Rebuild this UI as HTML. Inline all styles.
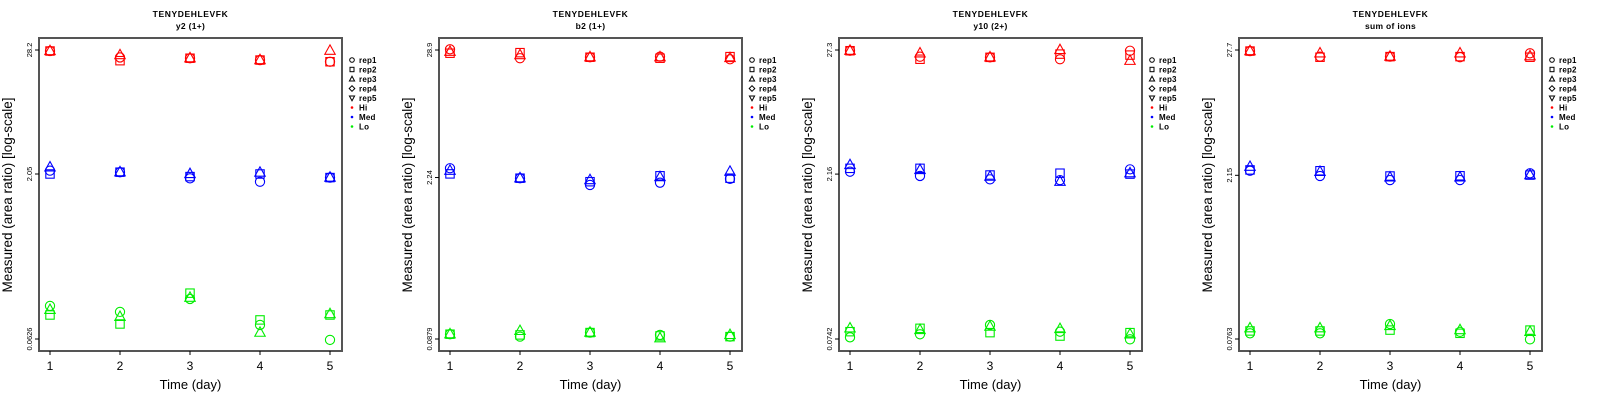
<!DOCTYPE html>
<html><head><meta charset="utf-8"><style>
html,body{margin:0;padding:0;background:#fff;}
svg{display:block;font-family:"Liberation Sans",sans-serif;}
</style></head><body>
<svg id="chart" width="1600" height="400" viewBox="0 0 1600 400" xmlns="http://www.w3.org/2000/svg"></svg>
<script>
const days = [1, 2, 3, 4, 5];
const panelTitles = ["y2 (1+)", "b2 (1+)", "y10 (2+)", "sum of ions"];
const peptide = "TENYDEHLEVFK";
const yTickLabels = [["28.2","2.05","0.0626"],["28.9","2.24","0.0879"],["27.3","2.16","0.0742"],["27.7","2.15","0.0763"]];
const yTickValues = [[28.2,2.05,0.0626],[28.9,2.24,0.0879],[27.3,2.16,0.0742],[27.7,2.15,0.0763]];
// values per panel: [rep1, rep2, rep3] each over days
const hi1 = [[27.6,24.1,23.7,22.8,22.0],[27.6,22.5,23.7,22.8,22.0],[27.6,25.3,23.7,22.8,27.8]];
const med1 = [[2.20,2.13,1.87,1.74,1.90],[2.05,2.13,1.94,2.05,1.90],[2.36,2.13,2.05,2.11,1.90]];
const lo1 = [[0.126,0.111,0.146,0.0843,0.0614],[0.104,0.086,0.165,0.0937,0.104],[0.116,0.100,0.150,0.0716,0.106]];
const hi2 = [[29.3,24.5,25.0,25.3,24.0],[27.1,27.4,25.0,24.5,25.3],[27.9,26.1,25.0,25.0,24.6]];
const med2 = [[2.70,2.21,1.93,2.02,2.18],[2.41,2.21,2.06,2.32,2.21],[2.57,2.21,2.13,2.26,2.52]];
const lo2 = [[0.0968,0.0922,0.100,0.0954,0.0922],[0.0968,0.0954,0.100,0.0935,0.0922],[0.0968,0.1034,0.100,0.0893,0.0954]];
const hi3 = [[26.9,23.8,23.5,22.6,26.9],[26.9,22.6,23.5,25.1,24.6],[26.9,25.5,23.5,27.3,21.9]];
const med3 = [[2.27,2.08,1.94,1.91,2.38],[2.43,2.43,2.12,2.20,2.16],[2.60,2.35,2.05,1.85,2.20]];
const lo3 = [[0.0768,0.0817,0.0989,0.0862,0.0737],[0.0862,0.0923,0.0845,0.0788,0.0845],[0.0923,0.0893,0.0955,0.0911,0.0817]];
const hi4 = [[27.1,24.2,24.2,23.9,25.9],[27.1,23.9,24.2,24.2,23.9],[27.1,25.9,24.2,25.9,24.4]];
const med4 = [[2.36,2.12,1.95,1.95,2.24],[2.40,2.36,2.12,2.13,2.16],[2.56,2.31,2.06,2.06,2.16]];
const lo4 = [[0.0857,0.0857,0.1036,0.0883,0.0757],[0.0899,0.0899,0.0915,0.0857,0.0915],[0.0950,0.0950,0.0995,0.0915,0.0883]];
const panelData = [[hi1,med1,lo1],[hi2,med2,lo2],[hi3,med3,lo3],[hi4,med4,lo4]];
const levelNames = ["hi","med","lo"];
const levelColors = ["#ff0000","#0000ff","#00ee00"];
const legendLabels = ["rep1","rep2","rep3","rep4","rep5","Hi","Med","Lo"];

const svg = document.getElementById('chart');
const NS = "http://www.w3.org/2000/svg";
function mk(tag, attrs, parent, text) {
  const e = document.createElementNS(NS, tag);
  for (const k in attrs) e.setAttribute(k, attrs[k]);
  if (text !== undefined) e.textContent = text;
  (parent || svg).appendChild(e);
  return e;
}
function marker(g, shape, cx, cy, color) {
  let e;
  if (shape === 0) e = mk('circle', {cx: cx, cy: cy, r: 4.6, fill: 'none', stroke: color, 'stroke-width': 1.1}, g);
  else if (shape === 1) e = mk('rect', {x: cx - 4.2, y: cy - 4.2, width: 8.4, height: 8.4, fill: 'none', stroke: color, 'stroke-width': 1.1}, g);
  else e = mk('polygon', {points: `${cx},${cy-5.8} ${cx-5.2},${cy+3.6} ${cx+5.2},${cy+3.6}`, fill: 'none', stroke: color, 'stroke-width': 1.1}, g);
  return e;
}
for (let p = 0; p < 4; p++) {
  const o = 400 * p;
  const L = 39 + o, R = 342 + o, T = 38, B = 351;
  const yTop = 50, yBot = 339;
  const lt = Math.log(yTickValues[p][0]), lb = Math.log(yTickValues[p][2]);
  const ys = v => yBot - (Math.log(v) - lb) / (lt - lb) * (yBot - yTop);
  const xs = d => 50 + o + (d - 1) * 70;
  const g = mk('g', {});
  
  
  const t1 = mk('text', {x: 190.5 + o, y: 17, 'text-anchor': 'middle', 'font-size': 8.5, 'font-weight': 'bold', 'letter-spacing': 0.6}, g, peptide);
  
  
  const t2 = mk('text', {x: 190.5 + o, y: 29, 'text-anchor': 'middle', 'font-size': 8.5, 'font-weight': 'bold', 'letter-spacing': 0.3}, g, panelTitles[p]);
  
  
  // data
  for (let lv = 0; lv < 3; lv++) {
    const reps = panelData[p][lv];
    for (let r = 0; r < reps.length; r++) {
      for (let d = 0; d < days.length; d++) {
        const m = marker(g, r, xs(days[d]), ys(reps[r][d]), levelColors[lv]);
        
        
      }
    }
  }
  const box = mk('rect', {x: L, y: T, width: R - L, height: B - T, fill: 'none', stroke: '#555', 'stroke-width': 2}, g);
  
  
  // y ticks
  for (let i = 0; i < 3; i++) {
    const y = ys(yTickValues[p][i]);
    mk('line', {x1: L - 4, x2: L, y1: y, y2: y, stroke: '#000', 'stroke-width': 1}, g);
    const tl = mk('text', {x: 0, y: 0, transform: `translate(${L - 7},${y}) rotate(-90)`, 'text-anchor': 'middle', 'font-size': 7.5}, g, yTickLabels[p][i]);
    
    
  }
  // x ticks
  for (let d = 0; d < days.length; d++) {
    const x = xs(days[d]);
    mk('line', {x1: x, x2: x, y1: B, y2: B + 4, stroke: '#000', 'stroke-width': 1}, g);
    const xl = mk('text', {x: x, y: 370, 'text-anchor': 'middle', 'font-size': 12}, g, String(days[d]));
    
    
  }
  const xt = mk('text', {x: 190.5 + o, y: 389, 'text-anchor': 'middle', 'font-size': 13}, g, 'Time (day)');
  
  
  const yt = mk('text', {x: 0, y: 0, transform: `translate(${12 + o},195) rotate(-90)`, 'text-anchor': 'middle', 'font-size': 13.5}, g, 'Measured (area ratio) [log-scale]');
  
  
  // legend
  const lg = mk('g', {}, g);
  
  
  for (let i = 0; i < legendLabels.length; i++) {
    const y = 60 + i * 9.5, x = 352 + o;
    if (i === 0) mk('circle', {cx: x, cy: y, r: 2.3, fill: 'none', stroke: '#000', 'stroke-width': 1}, lg);
    else if (i === 1) mk('rect', {x: x - 2, y: y - 2.2, width: 4, height: 4.4, fill: 'none', stroke: '#000', 'stroke-width': 1}, lg);
    else if (i === 2) mk('polygon', {points: `${x},${y-2.8} ${x-2.6},${y+2} ${x+2.6},${y+2}`, fill: 'none', stroke: '#000', 'stroke-width': 1}, lg);
    else if (i === 3) mk('polygon', {points: `${x},${y-2.8} ${x-2.8},${y} ${x},${y+2.8} ${x+2.8},${y}`, fill: 'none', stroke: '#000', 'stroke-width': 1}, lg);
    else if (i === 4) mk('polygon', {points: `${x},${y+2.8} ${x-2.6},${y-2} ${x+2.6},${y-2}`, fill: 'none', stroke: '#000', 'stroke-width': 1}, lg);
    else mk('circle', {cx: x, cy: y, r: 1.3, fill: levelColors[i - 5]}, lg);
    const le = mk('text', {x: x + 7, y: y + 3, 'font-size': 8, 'font-weight': 'bold', 'letter-spacing': 0.2}, lg, legendLabels[i]);
    
    
  }
}
</script>
</body></html>
